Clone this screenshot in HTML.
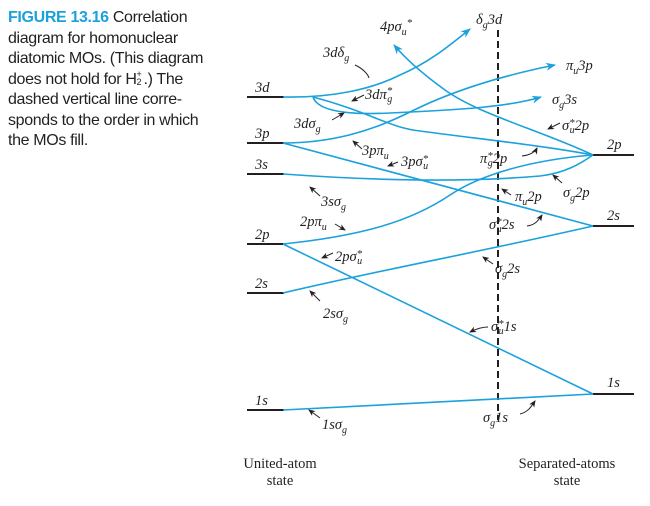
<!DOCTYPE html>
<html><head><meta charset="utf-8">
<style>
html,body{margin:0;padding:0;background:#fff;}
#wrap{position:relative;width:650px;height:506px;overflow:hidden;}
#cap{position:absolute;left:8px;top:8px;width:240px;font-family:"Liberation Sans",sans-serif;font-size:16px;line-height:20.5px;color:#231f20;letter-spacing:-0.35px;}
#cap b{color:#1ba1dc;}
.ss{display:inline-block;position:relative;width:7px;height:10px;line-height:0;font-size:9px;vertical-align:baseline;}
.ss i{font-style:normal;position:absolute;left:0;}
svg{position:absolute;left:0;top:0;}
svg text{font-family:"Liberation Serif",serif;font-style:italic;font-size:14.5px;fill:#231f20;}
.up{font-style:normal;}
</style></head><body>
<div id="wrap">
<div id="cap"><b>FIGURE 13.16</b> Correlation<br>diagram for homonuclear<br>diatomic MOs. (This diagram<br>does not hold for H<span class="ss"><i style="top:0px">+</i><i style="top:8px">2</i></span>.) The<br>dashed vertical line corre-<br>sponds to the order in which<br>the MOs fill.</div>
<svg width="650" height="506">
<defs>
<marker id="ab" markerWidth="10" markerHeight="8" refX="9" refY="4" orient="auto" markerUnits="userSpaceOnUse"><path d="M0,0 L10,4 L0,8 L3,4z" fill="#1ba1dc"/></marker>
<marker id="ak" markerWidth="7" markerHeight="6" refX="6" refY="3" orient="auto" markerUnits="userSpaceOnUse"><path d="M0,0 L7,3 L0,6 L2,3z" fill="#231f20"/></marker>
</defs>
<line x1="498" y1="30" x2="498" y2="420" stroke="#231f20" stroke-width="2" stroke-dasharray="7,4"/>
<g stroke="#231f20" stroke-width="2">
<line x1="247" y1="97" x2="284" y2="97"/>
<line x1="247" y1="143" x2="284" y2="143"/>
<line x1="247" y1="174" x2="284" y2="174"/>
<line x1="247" y1="244" x2="283" y2="244"/>
<line x1="247" y1="293" x2="284" y2="293"/>
<line x1="247" y1="410" x2="284" y2="410"/>
<line x1="593" y1="155" x2="634" y2="155"/>
<line x1="593" y1="226" x2="634" y2="226"/>
<line x1="593" y1="394" x2="634" y2="394"/>
</g>
<g fill="none" stroke="#1ba1dc" stroke-width="1.6">
<path d="M283,97 C330,98 370,90 400,75 C430,62 450,45 470,29" marker-end="url(#ab)"/>
<path d="M593,155 C540,130 480,115 445,90 C420,72 405,58 394,45" marker-end="url(#ab)"/>
<path d="M313,97 C370,112 390,128 420,131 C470,138 540,145 593,155"/>
<path d="M313,97 C318,112 350,115 390,113 C450,110 505,108 541,97" marker-end="url(#ab)"/>
<path d="M283,143 C330,143 370,132 410,112 C450,92 500,76 555,65" marker-end="url(#ab)"/>
<path d="M283,143 L593,226"/>
<path d="M283,174 C380,181 470,182 540,176 C565,173 580,164 593,155"/>
<path d="M283,244 C360,236 410,222 450,195 C480,175 530,160 593,155"/>
<path d="M283,244 L593,394"/>
<path d="M283,293 C380,270 480,252 593,226"/>
<path d="M283,410 L593,394"/>
</g>
<g fill="none" stroke="#231f20" stroke-width="1">
<path d="M355,65 C362,68 368,74 369,78"/>
<path d="M364,95 L352,101" marker-end="url(#ak)"/>
<path d="M332,120 L344,113" marker-end="url(#ak)"/>
<path d="M362,149 L353,141" marker-end="url(#ak)"/>
<path d="M398,162 L388,166" marker-end="url(#ak)"/>
<path d="M320,196 L310,187" marker-end="url(#ak)"/>
<path d="M335,224 L345,230" marker-end="url(#ak)"/>
<path d="M333,253 L322,258" marker-end="url(#ak)"/>
<path d="M320,301 L310,291" marker-end="url(#ak)"/>
<path d="M320,418 L309,410" marker-end="url(#ak)"/>
<path d="M560,123 L548,129" marker-end="url(#ak)"/>
<path d="M522,156 C530,155 535,152 537,148" marker-end="url(#ak)"/>
<path d="M511,195 L502,189" marker-end="url(#ak)"/>
<path d="M562,183 L553,175" marker-end="url(#ak)"/>
<path d="M527,226 C535,225 538,221 542,215" marker-end="url(#ak)"/>
<path d="M493,264 L483,257" marker-end="url(#ak)"/>
<path d="M488,327 C482,327 476,329 470,332" marker-end="url(#ak)"/>
<path d="M520,414 C528,412 531,407 535,401" marker-end="url(#ak)"/>
</g>
<g>
<text x="255" y="92">3d</text>
<text x="255" y="138">3p</text>
<text x="255" y="169">3s</text>
<text x="255" y="239">2p</text>
<text x="255" y="288">2s</text>
<text x="255" y="405">1s</text>
<text x="607" y="149">2p</text>
<text x="607" y="220">2s</text>
<text x="607" y="387">1s</text>
<text x="380" y="31">4pσ<tspan dy="4" font-size="10">u</tspan><tspan dy="-9" font-size="11">*</tspan></text>
<text x="476" y="24">δ<tspan dy="4" font-size="10">g</tspan><tspan dy="-4">3d</tspan></text>
<text x="323" y="57">3dδ<tspan dy="4" font-size="10">g</tspan></text>
<text x="365" y="99">3dπ<tspan dy="-5" font-size="11">*</tspan><tspan dy="8" dx="-5" font-size="10">g</tspan></text>
<text x="294" y="128">3dσ<tspan dy="4" font-size="10">g</tspan></text>
<text x="362" y="155">3pπ<tspan dy="4" font-size="10">u</tspan></text>
<text x="401" y="166">3pσ<tspan dy="-4" font-size="11">*</tspan><tspan dy="7" dx="-5" font-size="10">u</tspan></text>
<text x="321" y="206">3sσ<tspan dy="4" font-size="10">g</tspan></text>
<text x="300" y="226">2pπ<tspan dy="4" font-size="10">u</tspan></text>
<text x="335" y="261">2pσ<tspan dy="-4" font-size="11">*</tspan><tspan dy="7" dx="-5" font-size="10">u</tspan></text>
<text x="323" y="318">2sσ<tspan dy="4" font-size="10">g</tspan></text>
<text x="322" y="429">1sσ<tspan dy="4" font-size="10">g</tspan></text>
<text x="566" y="70">π<tspan dy="4" font-size="10">u</tspan><tspan dy="-4">3p</tspan></text>
<text x="552" y="104">σ<tspan dy="4" font-size="10">g</tspan><tspan dy="-4">3s</tspan></text>
<text x="562" y="130">σ<tspan dy="-4" font-size="11">*</tspan><tspan dy="7" dx="-5" font-size="10">u</tspan><tspan dy="-3">2p</tspan></text>
<text x="480" y="163">π<tspan dy="-4" font-size="11">*</tspan><tspan dy="7" dx="-5" font-size="10">g</tspan><tspan dy="-3">2p</tspan></text>
<text x="515" y="201">π<tspan dy="4" font-size="10">u</tspan><tspan dy="-4">2p</tspan></text>
<text x="563" y="197">σ<tspan dy="4" font-size="10">g</tspan><tspan dy="-4">2p</tspan></text>
<text x="489" y="229">σ<tspan dy="-4" font-size="11">*</tspan><tspan dy="7" dx="-5" font-size="10">u</tspan><tspan dy="-3">2s</tspan></text>
<text x="495" y="273">σ<tspan dy="4" font-size="10">g</tspan><tspan dy="-4">2s</tspan></text>
<text x="491" y="331">σ<tspan dy="-4" font-size="11">*</tspan><tspan dy="7" dx="-5" font-size="10">u</tspan><tspan dy="-3">1s</tspan></text>
<text x="483" y="422">σ<tspan dy="4" font-size="10">g</tspan><tspan dy="-4">1s</tspan></text>
</g>
<text class="up" x="280" y="468" text-anchor="middle">United-atom</text>
<text class="up" x="280" y="485" text-anchor="middle">state</text>
<text class="up" x="567" y="468" text-anchor="middle">Separated-atoms</text>
<text class="up" x="567" y="485" text-anchor="middle">state</text>
</svg>
</div>
</body></html>
